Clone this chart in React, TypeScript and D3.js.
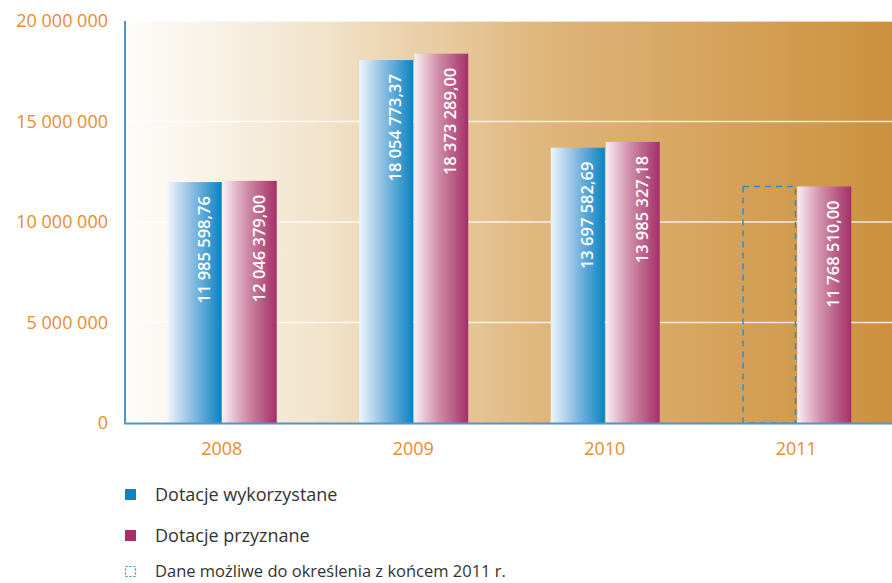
import React from "react";
import * as d3 from "d3";

const years = ["2008", "2009", "2010", "2011"];
const used: (number | null)[] = [11985598.76, 18054773.37, 13697582.69, null];
const granted = [12046379.0, 18373289.0, 13985327.18, 11768510.0];
const yTicks = [0, 5000000, 10000000, 15000000, 20000000];
const legendLabels = [
  "Dotacje wykorzystane",
  "Dotacje przyznane",
  "Dane możliwe do określenia z końcem 2011 r.",
];

const W = 892;
const H = 583;
const left = 126;
const right = 892;
const top = 21;
const bottom = 423;
const FONT = "'Open Sans', 'Noto Sans', sans-serif";

const fmtTick = (v: number) =>
  v === 0 ? "0" : d3.format(",")(v).replace(/,/g, " ");
const fmtVal = (v: number) => {
  const [i, d] = v.toFixed(2).split(".");
  return i.replace(/\B(?=(\d{3})+(?!\d))/g, " ") + "," + d;
};

export default function App() {
  const x = d3.scaleBand<string>().domain(years).range([left, right]).padding(0);
  const y = d3.scaleLinear().domain([0, 20000000]).range([bottom, top]);
  const barW = 54;
  const labOff = 15;

  return (
    <svg
      width={W}
      height={H}
      style={{ position: "absolute", left: 0, top: 0, background: "#fff" }}
      fontFamily={FONT}
    >
      <defs>
        <linearGradient id="bg" x1="0" x2="1" y1="0" y2="0">
          <stop offset="0" stopColor="#fefdfb" />
          <stop offset="0.25" stopColor="#f2e4cc" />
          <stop offset="0.55" stopColor="#dfb57a" />
          <stop offset="1" stopColor="#cc913e" />
        </linearGradient>
        <linearGradient id="blue" x1="0" x2="1" y1="0" y2="0">
          <stop offset="0" stopColor="#eef5fc" />
          <stop offset="0.45" stopColor="#8bbde2" />
          <stop offset="1" stopColor="#0883c3" />
        </linearGradient>
        <linearGradient id="pink" x1="0" x2="1" y1="0" y2="0">
          <stop offset="0" stopColor="#f9eef2" />
          <stop offset="0.45" stopColor="#cf8ca7" />
          <stop offset="1" stopColor="#a42f68" />
        </linearGradient>
      </defs>

      <rect x={left} y={top} width={right - left} height={bottom - top} fill="url(#bg)" />

      {yTicks.slice(1).map((t) => (
        <line
          key={t}
          x1={left}
          x2={right}
          y1={y(t)}
          y2={y(t)}
          stroke="#ffffff"
          strokeOpacity={0.8}
          strokeWidth={1.5}
        />
      ))}

      {yTicks.map((t) => (
        <text
          key={t}
          x={108}
          y={y(t)}
          dy="0.35em"
          textAnchor="end"
          fill="#ec8a2e"
          fontSize={18}
        >
          {fmtTick(t)}
        </text>
      ))}

      {years.map((yr, i) => {
        const cx = (x(yr) as number) + x.bandwidth() / 2;
        const u = used[i];
        const g = granted[i];
        return (
          <g key={yr}>
            {u !== null ? (
              <g>
                <rect x={cx - barW} y={y(u)} width={barW} height={bottom - y(u)} fill="url(#blue)" />
                <text
                  transform={`translate(${cx - barW / 2 + labOff},${y(u) + 14}) rotate(-90)`}
                  textAnchor="end"
                  fill="#ffffff"
                  fontSize={16.5}
                  fontWeight={600}
                >
                  {fmtVal(u)}
                </text>
              </g>
            ) : (
              <rect
                x={cx - barW + 0.75}
                y={y(g)}
                width={barW - 1.5}
                height={bottom - y(g)}
                fill="none"
                stroke="#2f8cc4"
                strokeWidth={1.5}
                strokeDasharray="6 5"
              />
            )}
            <rect x={cx + 1} y={y(g)} width={barW} height={bottom - y(g)} fill="url(#pink)" />
            <text
              transform={`translate(${cx + 1 + barW / 2 + labOff},${y(g) + 14}) rotate(-90)`}
              textAnchor="end"
              fill="#ffffff"
              fontSize={16.5}
              fontWeight={600}
            >
              {fmtVal(g)}
            </text>
            <text x={cx} y={449} dy="0.35em" textAnchor="middle" fill="#ec8a2e" fontSize={18}>
              {yr}
            </text>
          </g>
        );
      })}

      <line x1={125} x2={125} y1={top} y2={bottom + 1} stroke="#4f95cf" strokeWidth={2} />
      <line x1={124} x2={right} y1={bottom + 0.5} y2={bottom + 0.5} stroke="#4f95cf" strokeWidth={2} />

      <rect x={125} y={489} width={11} height={11} fill="#0b83c3" />
      <text x={155} y={494.5} dy="0.35em" fill="#333" fontSize={18}>
        {legendLabels[0]}
      </text>
      <rect x={125} y={530} width={11} height={11} fill="#a72f68" />
      <text x={155} y={535.5} dy="0.35em" fill="#333" fontSize={18}>
        {legendLabels[1]}
      </text>
      <rect
        x={125.5}
        y={566.5}
        width={10}
        height={10}
        fill="none"
        stroke="#2f8cc4"
        strokeWidth={1.2}
        strokeDasharray="2 2"
      />
      <text x={155} y={571.5} dy="0.35em" fill="#333" fontSize={16.5}>
        {legendLabels[2]}
      </text>
    </svg>
  );
}
